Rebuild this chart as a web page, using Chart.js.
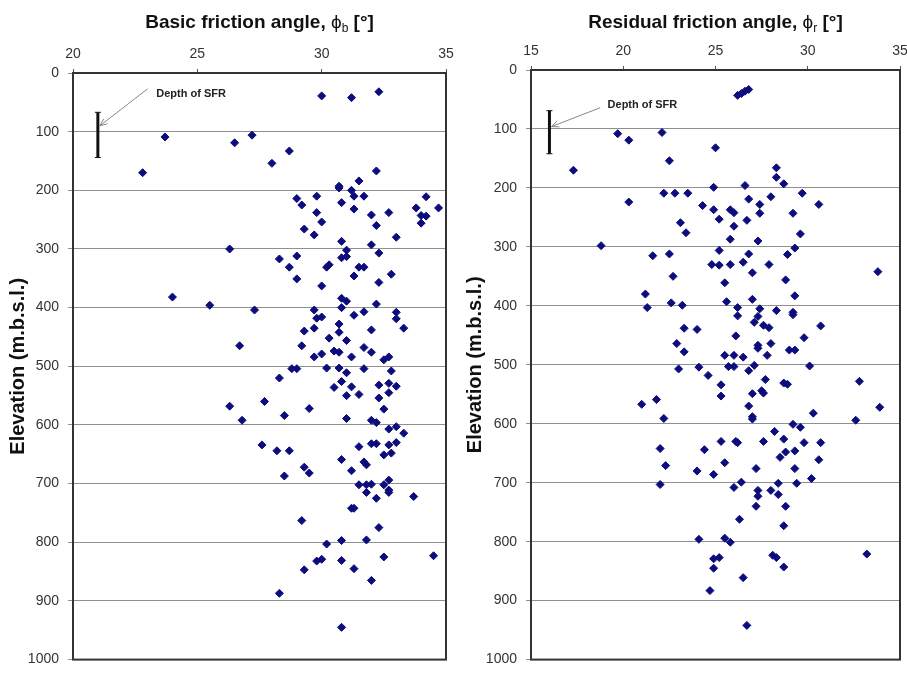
<!DOCTYPE html>
<html>
<head>
<meta charset="utf-8">
<script src="https://cdn.jsdelivr.net/npm/chart.js@4.4.1/dist/chart.umd.min.js"></script>
<style>
  html, body { margin: 0; padding: 0; background: #fff; overflow: hidden; }
  .box { position: absolute; top: 0; height: 677px; width: 460px; }
  #leftBox { left: 0; }
  #rightBox { left: 460px; }
</style>
</head>
<body>
<div class="box" id="leftBox"><canvas id="basicChart"></canvas></div>
<div class="box" id="rightBox"><canvas id="residualChart"></canvas></div>
<script>
// Basic friction angle (deg) vs elevation (m.b.s.l.)
const basicAngle = [
  30.0, 31.2, 32.3, 23.7, 26.5, 27.2, 28.7, 28.0, 22.8, 32.2, 31.5, 30.7, 30.7, 31.2,
  29.8, 29.0, 31.3, 31.7, 34.2, 29.2, 30.8, 34.7, 33.8, 29.8, 31.3, 32.0, 32.7, 34.0, 34.2, 34.0, 30.0, 32.2, 29.3, 29.7, 33.0, 30.8, 32.0, 31.0, 32.3, 26.3,
  28.3, 29.0, 28.7, 29.0, 30.2, 30.3, 30.8, 31.0, 31.5, 31.7, 31.3, 32.8, 32.3, 30.0,
  24.0, 25.5, 27.3, 30.8, 31.0, 32.2, 30.8, 29.7, 31.7, 33.0, 31.3, 29.8, 30.0, 33.0, 30.7, 33.3, 29.3, 29.7, 32.0, 30.7, 30.3, 31.0, 26.7, 29.2, 31.7, 30.5, 30.7, 32.0, 30.0, 29.7, 31.2, 32.7, 32.5,
  28.8, 29.0, 30.2, 30.7, 31.7, 31.0, 32.8, 28.3, 30.8, 32.3, 32.7, 33.0, 30.5, 31.2, 32.7, 31.5, 31.0, 32.3, 26.3, 27.7, 29.5, 32.5, 26.8, 28.5, 31.0, 32.0, 32.2, 33.0, 32.7, 33.3,
  27.6, 28.2, 28.7, 31.5, 32.0, 32.2, 32.7, 33.0, 32.5, 32.8, 30.8, 31.7, 31.8, 29.3, 29.5, 31.2, 28.5,
  31.5, 31.8, 32.0, 32.5, 32.7, 32.7, 32.7, 31.8, 32.2, 33.7, 31.2, 31.3, 29.2, 32.3, 30.8, 31.8, 30.2, 34.5, 32.5, 29.8, 30.0, 30.8, 29.3, 31.3, 32.0, 28.3, 30.8
];
const basicDepth = [
  39, 42, 32, 109, 119, 106, 133, 154, 170, 167, 184, 193, 196, 200,
  210, 214, 210, 210, 211, 225, 221, 230, 230, 238, 232, 242, 238, 243, 244, 256, 254, 260, 266, 276, 280, 287, 293, 302, 307, 300,
  317, 312, 331, 351, 331, 327, 315, 313, 331, 331, 346, 343, 357, 363,
  382, 396, 404, 384, 389, 394, 400, 404, 407, 408, 413, 418, 416, 419, 428, 435, 440, 435, 438, 442, 452, 456, 465, 465, 468, 474, 476, 476, 479, 484, 484, 484, 489,
  504, 504, 503, 503, 504, 511, 508, 520, 526, 532, 529, 534, 536, 535, 545, 548, 550, 554, 568, 560, 572, 573, 592, 584, 589, 592, 596, 603, 607, 614,
  634, 644, 644, 637, 632, 632, 634, 630, 651, 648, 659, 663, 668, 672, 682, 678, 687,
  702, 702, 701, 702, 694, 711, 715, 715, 725, 722, 742, 742, 763, 775, 797, 796, 803, 823, 825, 832, 829, 831, 847, 845, 865, 887, 945
];

// Residual friction angle (deg) vs elevation (m.b.s.l.)
const residualAngle = [
  26.2, 26.4, 26.6, 26.8,
  17.3, 19.7, 20.3, 22.1, 22.5, 25.0, 28.3, 28.3, 28.7, 24.9, 26.6, 22.2, 22.8, 23.5, 28.0, 29.7, 20.3, 26.8, 24.3, 24.9, 25.8, 26.0, 27.4, 30.6, 27.4, 29.2, 23.1, 25.2, 26.7, 23.4, 26.0, 29.6, 25.8, 27.3, 18.8, 25.2, 29.3, 21.6, 22.5, 26.8, 28.9,
  24.8, 25.2, 25.8, 26.5, 27.9, 27.0, 22.7, 28.8, 25.5, 33.8, 21.2, 21.3, 22.6, 23.2, 25.6, 27.0, 29.3, 26.2, 27.4, 28.3, 29.2, 29.2, 26.2, 27.3, 27.1, 27.6, 27.9, 30.7, 23.3, 24.0, 26.1, 29.8, 22.9, 27.3, 28.0, 27.3, 29.0, 29.3, 23.3, 25.5, 26.0, 26.5, 27.8,
  23.0, 24.1, 25.7, 26.0, 27.1, 26.8, 30.1, 24.6, 27.7, 25.3, 28.7, 28.9, 32.8, 25.3, 27.0, 27.5, 27.6, 21.0, 21.8, 26.8, 33.9, 22.2, 27.0, 27.0, 30.3, 32.6, 29.2, 29.6, 28.2, 28.7, 25.3, 26.1, 26.2, 27.6, 29.8, 30.7,
  22.0, 22.3, 22.0, 24.4, 28.8, 29.3, 28.5, 30.6, 25.5, 24.0, 24.9, 27.2, 29.3, 30.2, 26.4, 28.4, 29.4, 26.0, 27.3, 28.0, 27.3, 28.4, 27.2, 28.8, 26.3, 28.7, 24.1, 25.5, 25.8, 33.2, 28.1, 28.3, 24.9, 25.2, 24.9, 28.7, 26.5, 24.7, 26.7
];
const residualDepth = [
  43, 40, 36, 33,
  170, 108, 119, 106, 154, 132, 166, 182, 193, 199, 196, 209, 209, 209, 215, 209, 224, 219, 230, 237, 237, 242, 228, 228, 243, 243, 259, 253, 255, 276, 265, 278, 287, 290, 298, 306, 302, 315, 312, 312, 313,
  330, 331, 330, 326, 330, 344, 350, 356, 361, 342, 380, 403, 395, 399, 393, 389, 383, 403, 405, 408, 411, 415, 417, 418, 428, 433, 437, 434, 438, 440, 451, 454, 464, 467, 464, 472, 475, 475, 478, 484, 484, 487, 484,
  507, 504, 503, 503, 501, 510, 502, 518, 525, 534, 531, 533, 528, 553, 549, 544, 548, 567, 559, 570, 572, 591, 588, 592, 582, 594, 601, 606, 613, 626, 630, 630, 632, 630, 632, 632,
  642, 671, 703, 644, 648, 646, 657, 661, 666, 680, 686, 676, 676, 693, 699, 701, 701, 708, 713, 713, 723, 720, 740, 740, 762, 773, 796, 794, 801, 821, 823, 827, 829, 827, 845, 843, 861, 883, 942
];

// Depth of SFR: [angle, top, bottom]
const basicSfr = [21, 67, 144];
const residualSfr = [16, 69, 142];

// Axis ticks
const basicTicks = [20, 25, 30, 35];
const residualTicks = [15, 20, 25, 30, 35];
const depthTicks = [0, 100, 200, 300, 400, 500, 600, 700, 800, 900, 1000];

const FONT = '"Liberation Sans", Arial, sans-serif';

function toPoints(xs, ys) {
  return xs.map((v, i) => ({ x: v, y: ys[i] }));
}

// Title with subscript (phi_b / phi_r)
function drawTitle(chart, text, sub) {
  const ctx = chart.ctx;
  const area = chart.chartArea;
  const parts = [
    { t: text, f: 'bold 19px ' + FONT, dy: 0 },
    { t: '\u03D5', f: '19px ' + FONT, dy: 0 },
    { t: sub, f: '12px ' + FONT, dy: 4 },
    { t: ' [\u00B0]', f: 'bold 19px ' + FONT, dy: 0 }
  ];
  ctx.save();
  let total = 0;
  parts.forEach(p => { ctx.font = p.f; p.w = ctx.measureText(p.t).width; total += p.w; });
  let x = (area.left + area.right) / 2 - total / 2;
  ctx.fillStyle = '#111';
  ctx.textAlign = 'left';
  ctx.textBaseline = 'alphabetic';
  parts.forEach(p => {
    ctx.font = p.f;
    ctx.fillText(p.t, x, 28 + p.dy);
    x += p.w;
  });
  ctx.restore();
}

// SFR bar + label + arrow
function drawSfr(chart, sfr, label) {
  const ctx = chart.ctx;
  const xs = chart.scales.x, ys = chart.scales.y;
  const x = xs.getPixelForValue(sfr[0]);
  const y1 = ys.getPixelForValue(sfr[1]);
  const y2 = ys.getPixelForValue(sfr[2]);
  ctx.save();
  ctx.strokeStyle = '#111';
  ctx.lineWidth = 3;
  ctx.beginPath();
  ctx.moveTo(x, y1); ctx.lineTo(x, y2);
  ctx.stroke();
  ctx.lineWidth = 1;
  ctx.beginPath();
  ctx.moveTo(x - 3, y1); ctx.lineTo(x + 3, y1);
  ctx.moveTo(x - 3, y2); ctx.lineTo(x + 3, y2);
  ctx.stroke();

  // label
  const lx = xs.getPixelForValue(label.x), ly = ys.getPixelForValue(label.y);
  ctx.font = 'bold 11px ' + FONT;
  ctx.fillStyle = '#222';
  ctx.textAlign = 'left';
  ctx.textBaseline = 'middle';
  ctx.fillText('Depth of SFR', lx, ly);

  // arrow
  const ax = xs.getPixelForValue(label.fromX), ay = ys.getPixelForValue(label.fromY);
  const tx = x + 2, ty = ys.getPixelForValue(label.toY);
  ctx.strokeStyle = '#888';
  ctx.lineWidth = 1;
  ctx.beginPath();
  ctx.moveTo(ax, ay); ctx.lineTo(tx, ty);
  const ang = Math.atan2(ty - ay, tx - ax);
  ctx.moveTo(tx, ty); ctx.lineTo(tx - 8 * Math.cos(ang - 0.4), ty - 8 * Math.sin(ang - 0.4));
  ctx.moveTo(tx, ty); ctx.lineTo(tx - 8 * Math.cos(ang + 0.4), ty - 8 * Math.sin(ang + 0.4));
  ctx.stroke();
  ctx.restore();
}

function makeChart(id, cfg) {
  const ctx = document.getElementById(id).getContext('2d');
  return new Chart(ctx, {
    type: 'scatter',
    data: {
      datasets: [{
        data: toPoints(cfg.angle, cfg.depth),
        pointStyle: 'rectRot',
        pointRadius: 4,
        pointHoverRadius: 4,
        backgroundColor: '#0c0c7c',
        borderColor: '#0c0c7c',
        borderWidth: 1
      }]
    },
    options: {
      responsive: true,
      maintainAspectRatio: false,
      animation: false,
      events: [],
      layout: { padding: { top: 0, left: 0, right: cfg.padRight, bottom: cfg.padBottom } },
      plugins: { legend: { display: false }, tooltip: { enabled: false } },
      scales: {
        x: {
          type: 'linear',
          position: 'top',
          min: cfg.ticks[0],
          max: cfg.ticks[cfg.ticks.length - 1],
          afterBuildTicks: s => { s.ticks = cfg.ticks.map(v => ({ value: v })); },
          afterFit: s => { s.height = cfg.top; },
          grid: { drawOnChartArea: false, drawTicks: true, tickLength: 4, color: '#555' },
          border: { display: true, color: '#333', width: 2 },
          ticks: { padding: 6, color: '#333', font: { family: FONT, size: 14 }, callback: v => String(v) }
        },
        y: {
          type: 'linear',
          reverse: true,
          min: 0,
          max: 1000,
          afterBuildTicks: s => { s.ticks = depthTicks.map(v => ({ value: v })); },
          afterFit: s => { s.width = cfg.left; },
          grid: { color: '#8f8f8f', lineWidth: 1, drawTicks: true, tickLength: 5 },
          border: { display: true, color: '#333', width: 2 },
          ticks: { padding: 9, color: '#333', font: { family: FONT, size: 14 }, callback: v => String(v) },
          title: {
            display: true,
            text: 'Elevation (m.b.s.l.)',
            color: '#111',
            padding: { top: cfg.titlePad, bottom: 0 },
            font: { family: FONT, size: 20, weight: 'bold' }
          }
        }
      }
    },
    plugins: [{
      id: 'frame',
      afterDraw(chart) {
        const a = chart.chartArea;
        const c = chart.ctx;
        c.save();
        c.strokeStyle = '#333';
        c.lineWidth = 2;
        c.strokeRect(a.left, a.top, a.right - a.left, a.bottom - a.top);
        c.restore();
        drawTitle(chart, cfg.title, cfg.sub);
        drawSfr(chart, cfg.sfr, cfg.label);
      }
    }]
  });
}

window.onload = function() {
  makeChart('basicChart', {
    angle: basicAngle, depth: basicDepth, ticks: basicTicks,
    title: 'Basic friction angle, ', sub: 'b',
    sfr: basicSfr,
    label: { x: 23.35, y: 35, fromX: 23.0, fromY: 27, toY: 90 },
    top: 73, left: 73, padRight: 14, padBottom: 7, titlePad: 6
  });
  makeChart('residualChart', {
    angle: residualAngle, depth: residualDepth, ticks: residualTicks,
    title: 'Residual friction angle, ', sub: 'r',
    sfr: residualSfr,
    label: { x: 19.15, y: 59, fromX: 18.75, fromY: 64, toY: 96 },
    top: 70, left: 71, padRight: 20, padBottom: 9, titlePad: 3
  });
};
</script>
</body>
</html>
